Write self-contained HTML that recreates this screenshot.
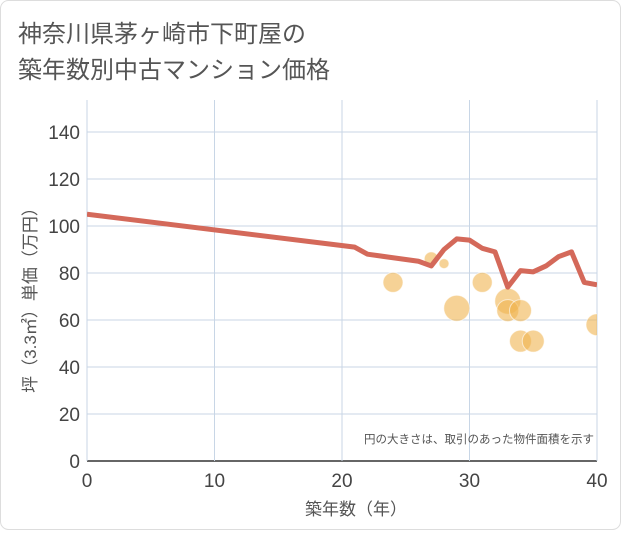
<!DOCTYPE html>
<html><head><meta charset="utf-8"><style>
body{margin:0;background:#fff;font-family:"Liberation Sans","Noto Sans CJK JP",sans-serif}
</style></head><body>
<svg width="621" height="530" xmlns="http://www.w3.org/2000/svg" font-family="Liberation Sans, Noto Sans CJK JP, sans-serif">
<rect x="0.5" y="0.5" width="620" height="529" rx="8" fill="#fff" stroke="#ddd"/>
<text x="18" y="42" font-size="24" fill="#555">神奈川県茅ヶ崎市下町屋の</text>
<text x="18" y="78" font-size="24" fill="#555">築年数別中古マンション価格</text>
<defs><clipPath id="pc"><rect x="87" y="100" width="510" height="361"/></clipPath></defs>
<g id="grid"></g>
<g id="bubbles" clip-path="url(#pc)"></g>
<path id="line" fill="none" stroke="#d4695a" stroke-width="5" stroke-linejoin="round" clip-path="url(#pc)"/>
<g id="axes"></g>
<text x="594" y="443" font-size="11.5" fill="#555" text-anchor="end">円の大きさは、取引のあった物件面積を示す</text>
<text x="356" y="515" font-size="17" fill="#555" text-anchor="middle">築年数（年）</text>
<text transform="translate(36,296) rotate(-90)" font-size="17" fill="#555" text-anchor="middle">坪（3.3㎡）単価（万円）</text>
</svg>
<script>
const xTicks=[0,10,20,30,40];
const yTicks=[0,20,40,60,80,100,120,140];
const lineYears=[0,21,22,26,27,28,29,30,31,32,33,34,35,36,37,38,39,40];
const lineValues=[105,91,88,85,83,90,94.5,94,90.5,89,74,81,80.5,83,87,89,76,75];
const bubbleYears=[24,27,28,29,31,33,33,34,34,35,40];
const bubbleValues=[76,86,84,65,76,68,64,64,51,51,58];
const bubbleSizes=[10,7,5,13,10,13,11,11,11,11,11];
const X=v=>87+v*12.75, Y=v=>461-v*2.35;
const NS="http://www.w3.org/2000/svg";
const grid=document.getElementById('grid'),axes=document.getElementById('axes'),bub=document.getElementById('bubbles');
function mk(t,a,p){const e=document.createElementNS(NS,t);for(const k in a)e.setAttribute(k,a[k]);p.appendChild(e);return e;}
yTicks.forEach(v=>{
 const l=mk('line',{x1:87,x2:597,y1:Y(v),y2:Y(v),stroke:v===0?'#333':'#c8d6e6','stroke-width':v===0?1.5:1},grid);
 
 
 const t=mk('text',{x:80,y:Y(v)+7,'font-size':19,fill:'#444','text-anchor':'end'},axes);t.textContent=v;
 
 
});
xTicks.forEach(v=>{
 const l=mk('line',{x1:X(v),x2:X(v),y1:100,y2:461,stroke:'#c8d6e6','stroke-width':1},grid);
 
 
 const t=mk('text',{x:X(v),y:487,'font-size':19,fill:'#444','text-anchor':'middle'},axes);t.textContent=v;
 
 
});
bubbleYears.forEach((yr,i)=>{
 const c=mk('circle',{cx:X(yr),cy:Y(bubbleValues[i]),r:bubbleSizes[i],fill:'rgba(240,180,80,0.6)',stroke:'rgba(255,255,255,0.6)'},bub);
 
 
});
document.getElementById('line').setAttribute('d',lineYears.map((yr,i)=>(i?'L':'M')+X(yr)+' '+Y(lineValues[i])).join(' '));
</script>
</body></html>
